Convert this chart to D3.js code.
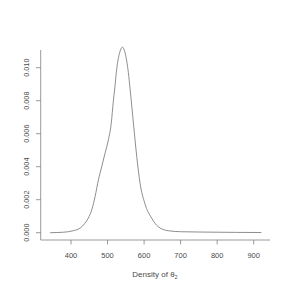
<!DOCTYPE html>
<html>
<head>
<meta charset="utf-8">
<script src="https://cdn.jsdelivr.net/npm/d3@7"></script>
<style>
body{margin:0;background:#fff;}
text{font-family:"Liberation Sans",Arial,sans-serif;fill:#4a4a4a;}
</style>
</head>
<body>
<div id="chart"></div>
<script>
// density estimate
var xs = [343, 380, 406, 425, 438, 447, 457, 466, 475, 484, 493, 502, 510, 516, 520, 525, 533, 541, 548, 557, 562, 571, 580, 589, 602, 621, 639, 666, 700, 752, 800, 850, 921];
var ys = [0.0, 0.00003, 0.00012, 0.00028, 0.00057, 0.00087, 0.0014, 0.0022, 0.0032, 0.0040, 0.0048, 0.0056, 0.0066, 0.0080, 0.0088, 0.0099, 0.0109, 0.01124, 0.0109, 0.0097, 0.00865, 0.0066, 0.0046, 0.0030, 0.00178, 0.00087, 0.00036, 0.00012, 0.00006, 0.00004, 0.00003, 0.00002, 0.00001];
var xTicks = [400, 500, 600, 700, 800, 900];
var yTicks = [0, 0.002, 0.004, 0.006, 0.008, 0.010];

var W = 291, H = 291;
var svg = d3.select("#chart").append("svg").attr("width", W).attr("height", H);

var x = d3.scaleLinear().domain([400, 900]).range([71, 253.7]);
var y = d3.scaleLinear().domain([0, 0.010]).range([232.7, 67.7]);

var axisCol = "#808080";

// y axis
svg.append("line").attr("x1", 40.7).attr("x2", 40.7).attr("y1", 50).attr("y2", 240)
  .attr("stroke", axisCol).attr("stroke-width", 0.8);
svg.selectAll(".yt").data(yTicks).enter().append("line")
  .attr("x1", 36).attr("x2", 40.7)
  .attr("y1", function(d){ return y(d); }).attr("y2", function(d){ return y(d); })
  .attr("stroke", axisCol).attr("stroke-width", 0.8);
svg.selectAll(".yl").data(yTicks).enter().append("text")
  .attr("transform", function(d){ return "translate(29," + y(d) + ") rotate(-90)"; })
  .attr("text-anchor", "middle").attr("font-size", "7.3px")
  .text(function(d){ return d3.format(".3f")(d); });

// x axis
svg.append("line").attr("x1", 40.7).attr("x2", 270).attr("y1", 240).attr("y2", 240)
  .attr("stroke", axisCol).attr("stroke-width", 0.8);
svg.selectAll(".xt").data(xTicks).enter().append("line")
  .attr("x1", function(d){ return x(d); }).attr("x2", function(d){ return x(d); })
  .attr("y1", 240).attr("y2", 244.5)
  .attr("stroke", axisCol).attr("stroke-width", 0.8);
svg.selectAll(".xl").data(xTicks).enter().append("text")
  .attr("x", function(d){ return x(d); }).attr("y", 258)
  .attr("text-anchor", "middle").attr("font-size", "7.5px")
  .text(function(d){ return d; });

var title = svg.append("text").attr("x", 155).attr("y", 277)
  .attr("text-anchor", "middle").attr("font-size", "8px");
title.append("tspan").text("Density of  \u03b8");
title.append("tspan").attr("font-size", "5.5px").attr("dy", 1.5).text("2");

// curve
var pts = xs.map(function(d, i){ return [d, ys[i]]; });
var line = d3.line()
  .x(function(d){ return x(d[0]); })
  .y(function(d){ return y(d[1]); })
  .curve(d3.curveMonotoneX);
svg.append("path").datum(pts).attr("d", line)
  .attr("fill", "none").attr("stroke", "#7a7a7a").attr("stroke-width", 0.85);
</script>
</body>
</html>
